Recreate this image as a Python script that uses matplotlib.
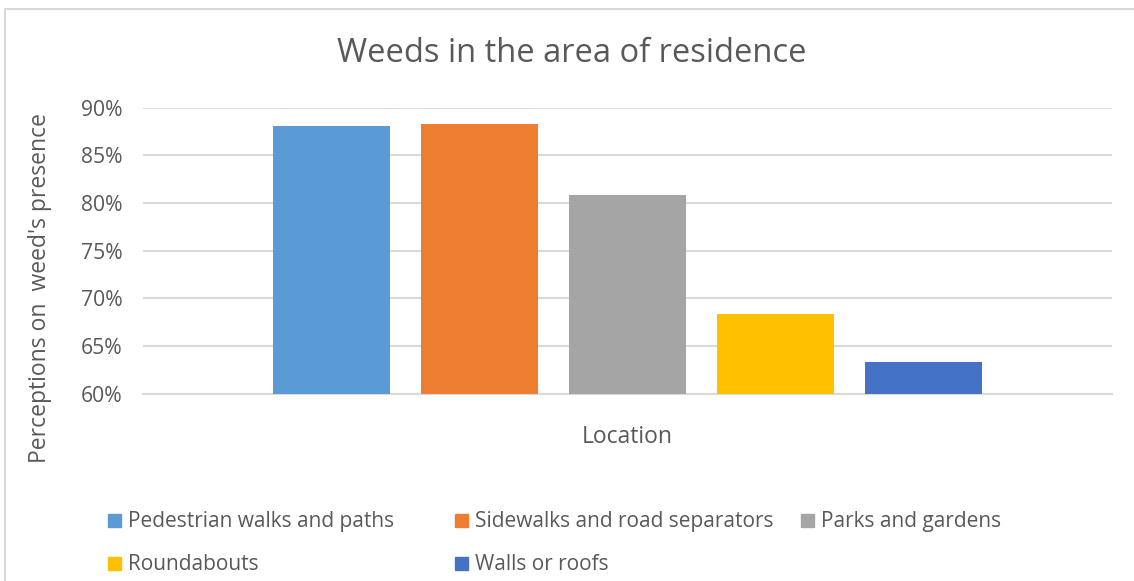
import matplotlib
matplotlib.use("Agg")
import matplotlib.pyplot as plt
from matplotlib.patches import Rectangle
from matplotlib.ticker import PercentFormatter

# Data
categories = ["Pedestrian walks and paths", "Sidewalks and road separators",
              "Parks and gardens", "Roundabouts", "Walls or roofs"]
values = [88.1, 88.3, 80.8, 68.4, 63.3]
colors = ["#5B9BD5", "#ED7D31", "#A5A5A5", "#FFC000", "#4472C4"]
y_ticks = [60, 65, 70, 75, 80, 85, 90]

W, H = 1134, 581
TEXT = "#595959"
GRID = "#D9D9D9"
plt.rcParams["font.family"] = ["Open Sans", "DejaVu Sans"]

fig = plt.figure(figsize=(W / 100, H / 100), dpi=100)
fig.patch.set_facecolor("white")

# plot area in pixel coordinates
px_left, px_right, px_top, px_bottom = 143, 1112, 107.5, 393.7
ax = fig.add_axes([px_left / W, 1 - px_bottom / H,
                   (px_right - px_left) / W, (px_bottom - px_top) / H])

x = list(range(len(values)))
ax.bar(x, [v - 60 for v in values], bottom=60, width=0.79, color=colors, zorder=3)
half = (px_right - px_left) / 148 / 2
ax.set_xlim(2 - half, 2 + half)
ax.set_ylim(60, 90)
ax.set_yticks(y_ticks)
ax.yaxis.set_major_formatter(PercentFormatter(decimals=0))
ax.set_xticks([])
ax.grid(axis="y", color=GRID, linewidth=1.5, zorder=0)
ax.tick_params(axis="y", length=0, pad=15, labelsize=15.2, labelcolor=TEXT)
for s in ["top", "right", "left"]:
    ax.spines[s].set_visible(False)
ax.spines["bottom"].set_color(GRID)
ax.spines["bottom"].set_linewidth(1.5)

# chart border
fig.add_artist(Rectangle((5 / W, -0.1), 1.2, 1 - 9 / H + 0.1,
                         transform=fig.transFigure, fill=False,
                         edgecolor=GRID, linewidth=1.5))

fig.text(572 / W, 1 - 53 / H, "Weeds in the area of residence",
         ha="center", va="center", fontsize=23.5, color=TEXT)
fig.text(627 / W, 1 - 437 / H, "Location", ha="center", va="center",
         fontsize=16.5, color=TEXT)
fig.text(40 / W, 1 - 288 / H, "Perceptions on  weed's presence", ha="center",
         va="center", rotation=90, fontsize=16.5, color=TEXT)

# legend
legend_pos = [(108, 520), (455, 520), (801, 520), (108, 563), (455, 563)]
for (lx, ly), name, c in zip(legend_pos, categories, colors):
    fig.add_artist(Rectangle((lx / W, 1 - (ly + 6.5) / H), 13 / W, 13 / H,
                             transform=fig.transFigure, color=c))
    fig.text((lx + 20) / W, 1 - (ly + 2) / H, name, ha="left", va="center",
             fontsize=15, color=TEXT)

fig.savefig("out.png", dpi=100)
